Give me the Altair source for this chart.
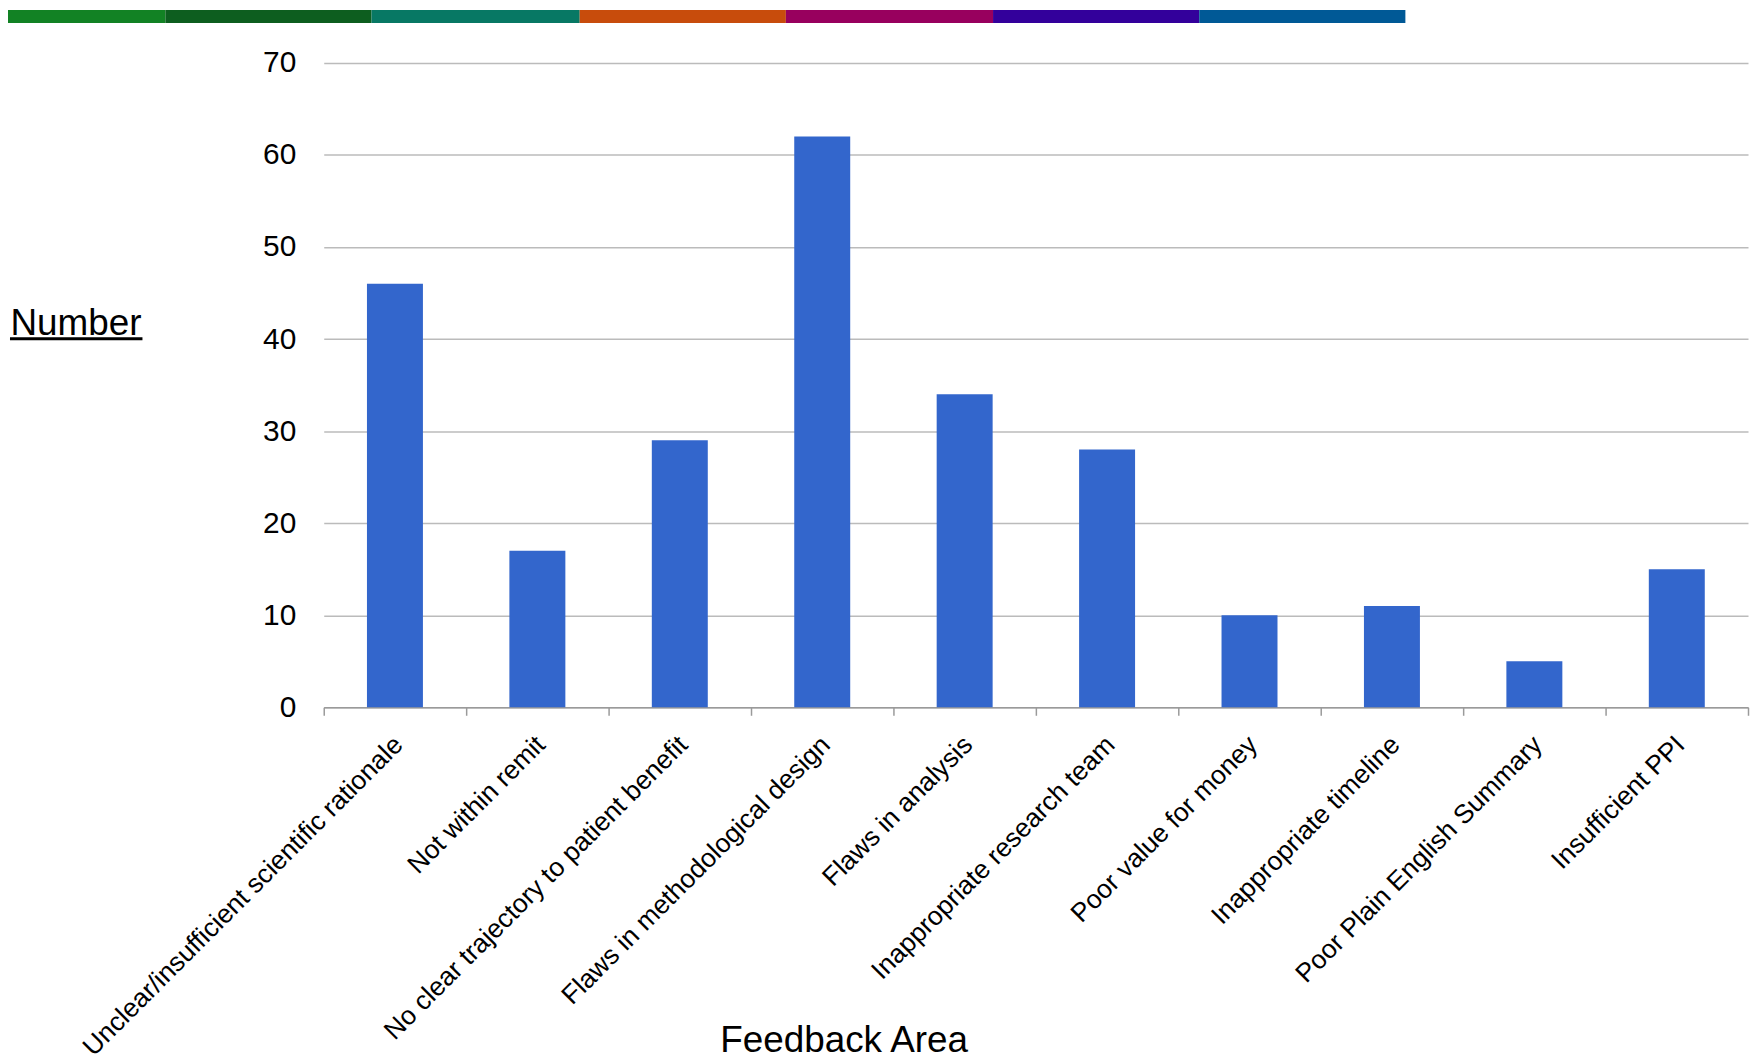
import altair as alt
import pandas as pd

categories = [
    "Unclear/insufficient scientific rationale",
    "Not within remit",
    "No clear trajectory to patient benefit",
    "Flaws in methodological design",
    "Flaws in analysis",
    "Inappropriate research team",
    "Poor value for money",
    "Inappropriate timeline",
    "Poor Plain English Summary",
    "Insufficient PPI",
]
values = [46, 17, 29, 62, 34, 28, 10, 11, 5, 15]
y_ticks = [0, 10, 20, 30, 40, 50, 60, 70]
stripe_colors = ["#128224", "#0d5e1f", "#077864", "#c84c0c", "#98005e", "#33009b", "#005996"]

df = pd.DataFrame({"Feedback Area": categories, "Number": values})

W, H = 1430, 647
FONT = "Liberation Sans"

bars = alt.Chart(df).mark_bar(color="#3366cc", width=alt.RelativeBandSize(0.393)).encode(
    x=alt.X(
        "Feedback Area:N",
        sort=None,
        scale=alt.Scale(paddingInner=0, paddingOuter=0),
        axis=alt.Axis(
            title="Feedback Area",
            titleFontSize=37,
            titleFontWeight="normal",
            titleColor="black",
            titleX=522,
            titleY=346,
            titleAlign="center",
            titleBaseline="alphabetic",
            labelAngle=-45,
            labelFontSize=26.5,
            labelColor="black",
            labelLimit=0,
            labelPadding=16,
            labelOffset=-6,
            tickBand="extent",
            tickSize=8,
            tickColor="#9a9a9a",
            tickWidth=1.5,
            domainColor="#9a9a9a",
            domainWidth=1.5,
            grid=False,
        ),
    ),
    y=alt.Y(
        "Number:Q",
        scale=alt.Scale(domain=[0, 70], nice=False),
        axis=alt.Axis(
            values=y_ticks,
            title="Number",
            titleAngle=0,
            titleFontSize=37,
            titleFontWeight="normal",
            titleColor="black",
            titleX=-315,
            titleY=273,
            titleAlign="left",
            titleBaseline="alphabetic",
            labelFontSize=30,
            labelColor="black",
            labelPadding=28,
            ticks=False,
            domain=False,
            grid=True,
            gridColor="#bbbbbb",
            gridWidth=1.5,
        ),
    ),
)

deco = alt.Chart(alt.Data(values=[{"a": 1}]))

underline = deco.mark_rule(color="black", strokeWidth=3).encode(
    x=alt.value(-315), x2=alt.value(-182), y=alt.value(277)
)

bounds = [-317, -159, 48, 257, 464, 672, 879, 1086]
stripes = [
    deco.mark_rect(color=c).encode(
        x=alt.value(bounds[i]), x2=alt.value(bounds[i + 1]),
        y=alt.value(-53), y2=alt.value(-40)
    )
    for i, c in enumerate(stripe_colors)
]

chart = alt.layer(bars, underline, *stripes).properties(
    width=W,
    height=H,
    autosize=alt.AutoSizeParams(type="none"),
    padding={"left": 317, "top": 53, "right": 2, "bottom": 354},
).configure(font=FONT).configure_view(stroke=None)

chart.save("out.html", embed_options={"renderer": "svg", "actions": False})
